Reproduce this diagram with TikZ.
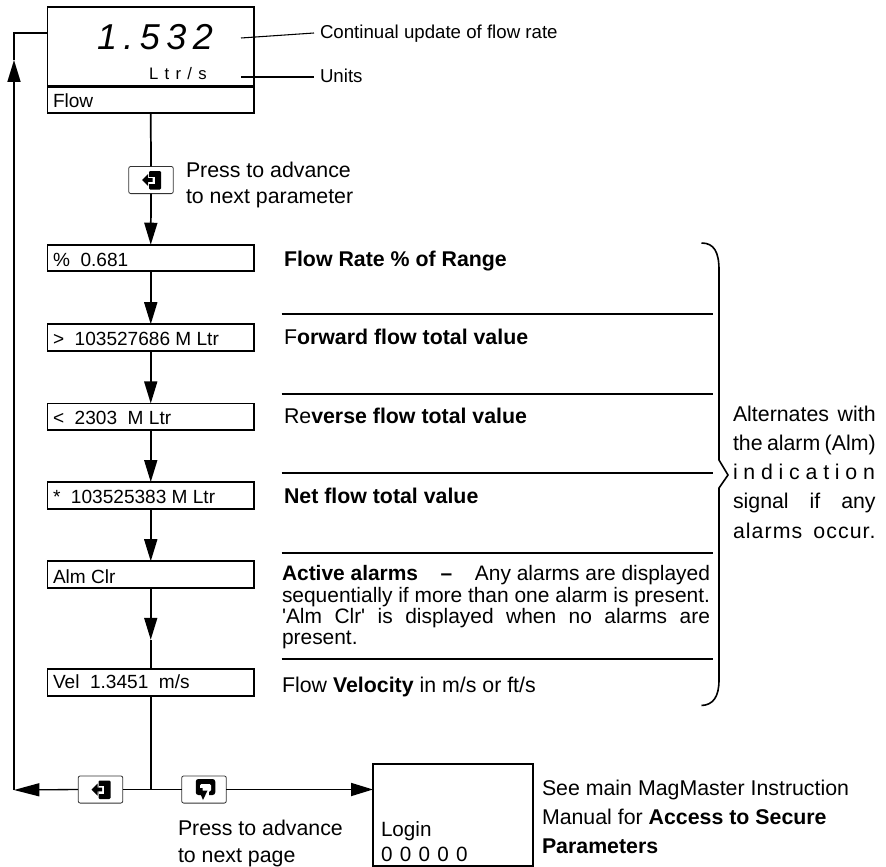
\documentclass[tikz,border=0pt]{standalone}
\usepackage{fontspec}
\setmainfont{Liberation Sans}
\usetikzlibrary{arrows.meta}
\newcommand{\fsz}[1]{\fontsize{#1pt}{#1pt}\selectfont}
\newcommand{\just}[2]{\makebox[#1][s]{#2}}
\tikzset{
  wire/.style={line width=1.3pt,draw=black},
  thinwire/.style={line width=0.8pt,draw=black},
  tip/.style={line width=1.3pt,-{Triangle[width=9.75pt,length=16.5pt]}},
  lcdbox/.style={draw=black,line width=1.4pt,minimum width=154.9pt,minimum height=19.9pt,inner sep=0pt,outer sep=0pt},
  topbox/.style={lcdbox,minimum height=79.1pt},
  loginbox/.style={draw=black,line width=1.2pt,minimum width=120pt,minimum height=76.5pt,inner sep=0pt,outer sep=0pt},
  keybtn/.style={draw=black!80,line width=0.6pt,rounded corners=1.6pt,minimum width=33.5pt,minimum height=20.4pt,inner sep=0pt,outer sep=0pt,fill=white},
  lbl/.style={anchor=base west,inner sep=0pt,outer sep=0pt},
  boxtxt/.style={lbl,font=\fsz{14.3}},
  bigtxt/.style={lbl,font=\fsz{16}},
  alarmtxt/.style={lbl,font=\fsz{15.7}},
  notetxt/.style={lbl,font=\fsz{14}},
  sep/.style={line width=0.9pt,draw=black},
  enterkey/.pic={
    \fill[rounded corners=0.8pt] (-2,-9) rectangle (10,9.5);
    \fill[white] (-2,-3.5) rectangle (3.5,4);
    \fill (-9,0) -- (-3,-6) -- (-3,-1.8) -- (1.5,-1.8) -- (1.5,1.8) -- (-3,1.8) -- (-3,6) -- cycle;
  },
  pagekey/.pic={
    \fill[rounded corners=2pt] (-9.75,-11) rectangle (9.75,5);
    \fill[white,rounded corners=1pt] (-5.5,-6) rectangle (5.5,1.5);
    \fill[white] (-1,1) rectangle (3.5,5.5);
    \fill (-5.5,-2) -- (-3,-2) -- (-3,0.5) -- (2,0.5) -- (-2.5,10) -- (-6.5,0.5) -- (-5.5,0.5) -- cycle;
  }
}
\begin{document}
\begin{tikzpicture}[x=0.75pt,y=-0.75pt]
\useasboundingbox (0,0) rectangle (886,867);
% boxes
\node[topbox] (top) at (150.75,60) {};
\coordinate (divL) at (47.5,86.5);
\coordinate (divR) at (254,86.5);
\draw[line width=1.6pt] (divL) -- (divR);
\node[lcdbox] (b1) at (150.75,258) {};
\node[lcdbox] (b2) at (150.75,337.5) {};
\node[lcdbox] (b3) at (150.75,416.7) {};
\node[lcdbox] (b4) at (150.75,495.3) {};
\node[lcdbox] (b5) at (150.75,574.5) {};
\node[lcdbox] (b6) at (150.75,682.3) {};
\node[loginbox] (login) at (453,815) {};
% box texts
\node[lbl,font=\fsz{27}\itshape\addfontfeature{LetterSpace=18}] (rate) at (97,50) {1.532};
\node[lbl,font=\fsz{12.5}\addfontfeature{LetterSpace=38}] (unit) at (149,80) {Ltr/s};
\node[boxtxt] (tflow) at (53,108) {Flow};
\node[boxtxt] (t1) at (53,266) {\%\ \ 0.681};
\node[boxtxt] (t2) at (53,345) {>\ \ 103527686 M Ltr};
\node[boxtxt] (t3) at (53,424) {<\ \ 2303\ \ M Ltr};
\node[boxtxt] (t4) at (53,503) {*\ \ 103525383 M Ltr};
\node[boxtxt] (t5) at (53,583) {Alm Clr};
\node[boxtxt] (t6b) at (53,688) {Vel\ \ 1.3451\ \ m/s};
\node[lbl,font=\fsz{15.5}] (tlogin) at (381,836) {Login};
\node[lbl,font=\fsz{15.5}] (tzero) at (381,861) {\just{65pt}{0 0 0 0 0}};
% buttons
\node[keybtn] (k1) at (151,180) {};
\node[keybtn] (kL) at (100.5,789.5) {};
\node[keybtn] (kR) at (204,789.5) {};
\pic at (151,180) {enterkey};
\pic at (100.5,789.5) {enterkey};
\pic at (205.5,790) {pagekey};
% main connectors
\draw[wire] (top.south) ++(0,1) -- (k1.north);
\draw[tip] (k1.south) -- (b1.north);
\draw[tip] (b1.south) -- (b2.north);
\draw[tip] (b2.south) -- (b3.north);
\draw[tip] (b3.south) -- (b4.north);
\draw[tip] (b4.south) -- (b5.north);
\draw[tip] (b5.south) -- ++(0,52) coordinate (m56);
\draw[wire] (m56) -- (b6.north);
\coordinate (junc) at (b6.south |- kL.east);
\draw[wire] (b6.south) -- (junc);
\draw[wire] (junc) -- (kL.east);
\draw[wire] (junc) -- (kR.west);
\coordinate (backcorner) at (14,790);
\draw[line width=1pt,draw=black,-{Triangle[width=9.75pt,length=19pt]}] (kL.west) -- (backcorner);
\coordinate (loginin) at (login.west |- kR.east);
\draw[tip] (kR.east) -- (loginin);
% return line
\coordinate (retA) at (14,33);
\coordinate (retB) at (14,60);
\coordinate (retC) at (14,82);
\coordinate (topL) at (top.west |- retA);
\draw[wire] (backcorner) -- (retC);
\draw[tip] (retC) -- (retB);
\draw[wire] (retB) -- (retA) -- (topL);
% leaders
\node[notetxt] (lab1) at (320,38.5) {Continual update of flow rate};
\node[notetxt] (lab2) at (320,83) {Units};
\coordinate (ld1) at (241,38);
\coordinate (ld1e) at (314,33);
\coordinate (ld2) at (241,77);
\coordinate (ld2e) at (314,77);
\draw[thinwire] (ld1) -- (ld1e);
\draw[thinwire] (ld2) -- (ld2e);
% press notes
\node[bigtxt] (p1) at (186,177) {Press to advance};
\node[bigtxt] (p2) at (186,203) {to next parameter};
\node[bigtxt] (p3) at (178,835) {Press to advance};
\node[bigtxt] (p4) at (178,862) {to next page};
% right labels
\node[bigtxt] (r1) at (284,266) {\bfseries Flow Rate \% of Range};
\node[bigtxt] (r2) at (284,344) {F\textbf{orward flow total value}};
\node[bigtxt] (r3) at (284,423.5) {Re\textbf{verse flow total value}};
\node[bigtxt] (r4) at (284,503) {\bfseries Net flow total value};
\node[alarmtxt] (r5) at (282,580.7) {\just{321pt}{\textbf{Active alarms}\hspace{0.7em plus 1fil}\textbf{--}\hspace{0.7em plus 1fil}Any alarms are displayed}};
\node[alarmtxt] (r5b) at (282,602) {\just{321pt}{sequentially if more than one alarm is present.}};
\node[alarmtxt] (r5c) at (282,623) {\just{321pt}{\textquotesingle Alm Clr\textquotesingle\ is displayed when no alarms are}};
\node[alarmtxt] (r5d) at (282,644) {present.};
\node[bigtxt] (r6) at (282,692.7) {Flow \textbf{Velocity} in m/s or ft/s};
% separators
\foreach \yy in {314,394,473,553,659} \draw[sep] (281.5,\yy) -- (713,\yy);
% brace
\draw[line width=1.2pt,line join=miter] (701.5,243) .. controls (714,243) and (719,252) .. (719,270)
  -- (719,460) -- (728,475) -- (719,488) -- (719,680) .. controls (719,697) and (713,705) .. (701.5,705.5);
% alternates
\node[bigtxt] (a1) at (733,421) {\just{107pt}{Alternates with}};
\node[bigtxt] (a2) at (733,450) {\just{107pt}{the alarm (Alm)}};
\node[bigtxt,font=\fsz{16}\addfontfeature{LetterSpace=27}] (a3) at (733,479) {indication};
\node[bigtxt] (a4) at (733,508) {\just{107pt}{signal\hfil if\hfil any}};
\node[bigtxt,font=\fsz{16}\addfontfeature{LetterSpace=5}] (a5) at (733,538) {\just{107pt}{alarms\hfil occur.}};
% login note
\node[bigtxt] (n1) at (542,795) {See main MagMaster Instruction};
\node[bigtxt] (n2) at (542,824) {Manual for \textbf{Access to Secure}};
\node[bigtxt] (n3) at (542,853) {\bfseries Parameters};
\end{tikzpicture}
\end{document}
